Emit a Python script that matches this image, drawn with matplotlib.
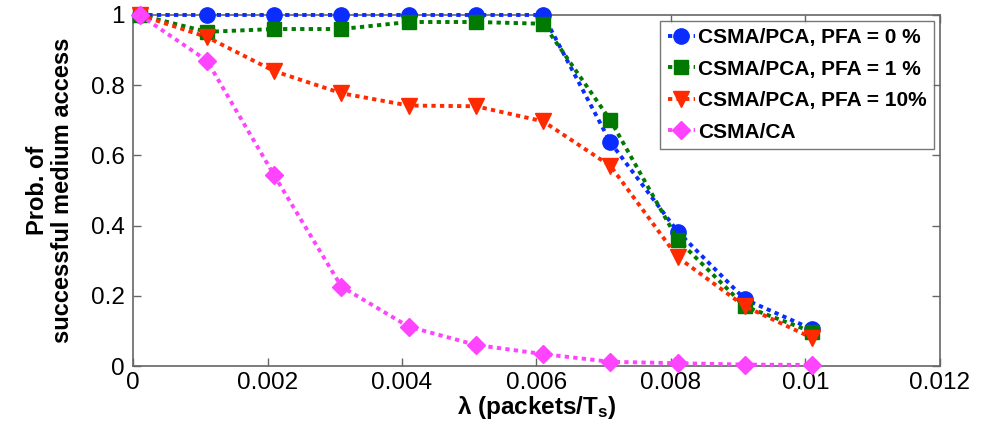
import matplotlib
matplotlib.use("Agg")
import matplotlib.pyplot as plt
from matplotlib.ticker import FuncFormatter, MultipleLocator

plt.rcParams['font.family'] = ['Liberation Sans', 'DejaVu Sans']
plt.rcParams['mathtext.fontset'] = 'custom'
plt.rcParams['mathtext.rm'] = 'Liberation Sans'
plt.rcParams['mathtext.bf'] = 'Liberation Sans:bold'
plt.rcParams['mathtext.default'] = 'bf'

lam = [0.0001, 0.0011, 0.0021, 0.0031, 0.0041, 0.0051, 0.0061, 0.0071, 0.0081, 0.0091, 0.0101]
pca_0 = [1.0, 1.0, 1.0, 1.0, 1.0, 1.0, 1.0, 0.637, 0.383, 0.19, 0.105]
pca_1 = [1.0, 0.952, 0.96, 0.96, 0.98, 0.98, 0.975, 0.70, 0.36, 0.17, 0.097]
pca_10 = [1.0, 0.937, 0.84, 0.777, 0.742, 0.74, 0.697, 0.57, 0.31, 0.17, 0.08]
csma_ca = [1.0, 0.87, 0.543, 0.226, 0.112, 0.06, 0.034, 0.012, 0.008, 0.004, 0.003]

labels = ['CSMA/PCA, PFA = 0 %', 'CSMA/PCA, PFA = 1 %', 'CSMA/PCA, PFA = 10%', 'CSMA/CA']
colors = ['#0a2cff', '#007a00', '#ff2a00', '#ff44ff']
markers = ['o', 's', 'v', 'D']
msizes = [11, 10.5, 11.5, 9.5]
series = [pca_0, pca_1, pca_10, csma_ca]

fig = plt.figure(figsize=(9.86, 4.33), dpi=100)
ax = fig.add_axes([0.1349, 0.1547, 0.9533 - 0.1349, 0.9654 - 0.1547])

for y, lab, c, m, ms in zip(series, labels, colors, markers, msizes):
    ax.plot(lam, y, color=c, marker=m, markersize=ms, linewidth=2.8,
            dashes=(1.1, 1.1), dash_capstyle='butt', label=lab, clip_on=False, zorder=3)

ax.set_xlim(0, 0.012)
ax.set_ylim(0, 1)
ax.xaxis.set_major_locator(MultipleLocator(0.002))
ax.yaxis.set_major_locator(MultipleLocator(0.2))
fmt = FuncFormatter(lambda v, p: '%g' % round(v, 6))
ax.xaxis.set_major_formatter(fmt)
ax.yaxis.set_major_formatter(fmt)

for s in ax.spines.values():
    s.set_color('#666666')
    s.set_linewidth(1.2)
ax.tick_params(direction='in', length=5.5, width=1, colors='#666666', labelcolor='black',
               labelsize=17.5, top=True, right=True)
ax.tick_params(axis='x', pad=4)
ax.tick_params(axis='y', pad=6)

ax.set_xlabel(r'λ (packets/T$_{s}$)', fontsize=17.5, fontweight='bold', labelpad=0)
ax.set_ylabel('Prob. of\nsuccessful medium access', fontsize=17, fontweight='bold',
              labelpad=12, linespacing=1.1)

leg = ax.legend(loc='upper right', bbox_to_anchor=(0.9925, 0.983), prop={'weight': 'bold', 'size': 15},
                handlelength=1.3, handletextpad=0.15, numpoints=1, labelspacing=0.6,
                borderpad=0.35, borderaxespad=0.0, frameon=True, fancybox=False)
leg.get_frame().set_edgecolor('#555555')
leg.get_frame().set_linewidth(1.0)

fig.savefig('out.png', dpi=100)
